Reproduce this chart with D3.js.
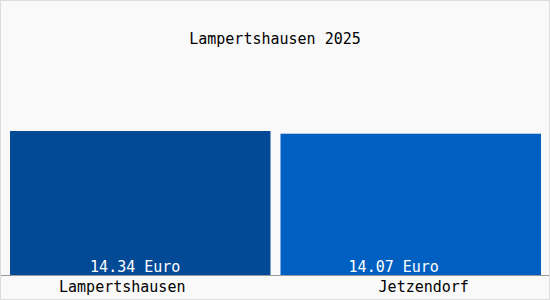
<!DOCTYPE html>
<html lang="de">
  <head>
    <meta charset="utf-8">
    <title>Lampertshausen 2025</title>
    <script src="https://d3js.org/d3.v7.min.js"></script>
    <style type="text/css">
        html, body {
          margin: 0;
          padding: 0;
          background: #fff;
        }
        .chart text {
          font-family: "DejaVu Sans Mono", "Liberation Mono", monospace;
          font-size: 15px;
        }
    </style>
  </head>
  <body>
    <div class="chart" id="chart"></div>
    <script>
        // data
        var places = ["Lampertshausen", "Jetzendorf"];
        var prices = [14.34, 14.07];
        var valueLabels = ["14.34 Euro", "14.07 Euro"];
        var barColors = ["#034a96", "#0060c2"];
        var title = "Lampertshausen 2025";

        var width = 550, height = 300;
        var baseY = 275;

        // the labels in the original sit a bit off the bar centres
        var valShift = [-5, -17];
        var catShift = [-18, 13];

        var svg = d3.select("#chart").append("svg")
            .attr("width", width)
            .attr("height", height);

        svg.append("rect")
            .attr("x", 0.5).attr("y", 0.5)
            .attr("width", width - 1).attr("height", height - 1)
            .attr("fill", "#f9f9f9")
            .attr("stroke", "#dcdcdc");

        var x = d3.scaleBand()
            .domain(places)
            .range([10, 541])
            .paddingInner(0.037);

        var y = d3.scaleLinear()
            .domain([0, 14.34 * 1.25])
            .range([baseY, 95]);

        svg.append("text")
            .attr("x", width / 2)
            .attr("y", 44)
            .attr("text-anchor", "middle")
            .attr("fill", "#000")
            .text(title);

        svg.selectAll("rect.bar")
            .data(prices)
            .enter().append("rect")
              .attr("class", "bar")
              .attr("x", function(d, i) { return x(places[i]); })
              .attr("y", function(d) { return y(d); })
              .attr("width", x.bandwidth())
              .attr("height", function(d) { return baseY - y(d); })
              .attr("fill", function(d, i) { return barColors[i]; });

        // baseline
        svg.append("line")
            .attr("x1", 1).attr("x2", width - 1)
            .attr("y1", baseY + 0.5).attr("y2", baseY + 0.5)
            .attr("stroke", "#9a9a9a");

        svg.selectAll("text.val")
            .data(valueLabels)
            .enter().append("text")
              .attr("class", "val")
              .attr("x", function(d, i) { return x(places[i]) + x.bandwidth() / 2 + valShift[i]; })
              .attr("y", baseY - 3)
              .attr("text-anchor", "middle")
              .attr("fill", "#fff")
              .text(function(d) { return d; });

        svg.selectAll("text.cat")
            .data(places)
            .enter().append("text")
              .attr("class", "cat")
              .attr("x", function(d, i) { return x(d) + x.bandwidth() / 2 + catShift[i]; })
              .attr("y", 292)
              .attr("text-anchor", "middle")
              .attr("fill", "#000")
              .text(function(d) { return d; });
    </script>
  </body>
</html>
